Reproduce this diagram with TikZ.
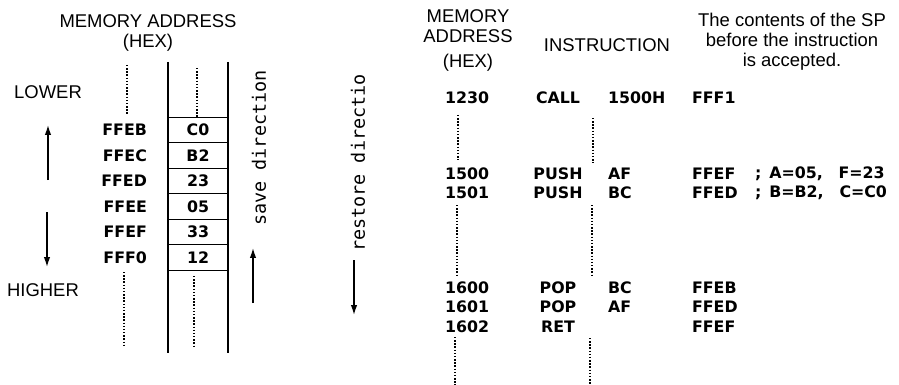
\documentclass[tikz,border=0pt]{standalone}
\usepackage{fontspec}
\setmainfont{Liberation Sans}
\newfontfamily\datafamily{DejaVu Sans}
\newfontfamily\dirfamily{DejaVu Sans Mono}
\usetikzlibrary{arrows.meta}
\tikzset{
  headtext/.style={
    align=center,
    inner sep=1pt,
    font=\fontsize{10.5}{11.5}\selectfont
  },
  datatext/.style={
    inner sep=1pt,
    font=\datafamily\bfseries\fontsize{9}{10}\selectfont
  },
  stackcell/.style={
    datatext,
    draw,
    thick,
    minimum width=1.2cm,
    minimum height=0.51cm,
    inner sep=0pt
  },
  dirtext/.style={rotate=90, inner sep=0pt, font=\dirfamily\fontsize{10.5}{11}\selectfont},
  dirarrow/.style={-{Latex[length=2mm,width=1.3mm]}, thick},
  gapline/.style={densely dotted, thick},
  wallline/.style={thick}
}
\begin{document}
\begin{tikzpicture}[x=0.02cm,y=-0.02cm]
\useasboundingbox (0,0) rectangle (899,385);
% left half: the stack area
\node[headtext] (memhead) at (148,33) {MEMORY ADDRESS\\(HEX)};
\node[headtext] (lower) at (48,92) {LOWER};
\node[headtext] (higher) at (43,290) {HIGHER};
\coordinate (upfrom) at (48,180);
\coordinate (upto) at (48,125);
\coordinate (downfrom) at (47,212);
\coordinate (downto) at (47,267);
\draw[dirarrow] (upfrom) -- (upto);
\draw[dirarrow] (downfrom) -- (downto);
% stack walls
\coordinate (wallLtop) at (168,62);
\coordinate (wallLbot) at (168,353);
\coordinate (wallRtop) at (228,62);
\coordinate (wallRbot) at (228,353);
\draw[wallline] (wallLtop) -- (wallLbot);
\draw[wallline] (wallRtop) -- (wallRbot);
% saved bytes
\foreach \addr/\val [count=\i] in {FFEB/C0,FFEC/B2,FFED/23,FFEE/05,FFEF/33,FFF0/12}{
  \node[stackcell] (cell\i) at (198,{104.5+25.5*\i}) {\val};
  \node[datatext, anchor=east] (addr\i) at (149,{104.5+25.5*\i}) {\addr};
}
\node[dirtext] (savetext) at (259,148) {save direction};
\coordinate (savefrom) at (253,303);
\coordinate (saveto) at (253,248);
\draw[dirarrow] (savefrom) -- (saveto);
\node[dirtext] (restoretext) at (358,163) {restore directio};
\coordinate (restorefrom) at (354,260);
\coordinate (restoreto) at (354,315);
\draw[dirarrow] (restorefrom) -- (restoreto);
% right half: the program listing
\node[headtext] (addrhead) at (468,26) {MEMORY\\ADDRESS};
\node[headtext] (hexhead) at (468,63) {(HEX)};
\node[headtext] (insthead) at (607,45) {INSTRUCTION};
\node[headtext] (sphead) at (792,42) {The contents of the SP\\before the instruction\\is accepted.};
\foreach \y/\adr/\mn/\op/\sp in {98/1230/CALL/1500H/FFF1,174/1500/PUSH/AF/FFEF,193/1501/PUSH/BC/FFED,
                                  288/1600/POP/BC/FFEB,307/1601/POP/AF/FFED,327/1602/RET//FFEF}{
  \node[datatext] (adr\adr) at (467,\y) {\adr};
  \node[datatext] (mn\adr) at (558,\y) {\mn};
  \node[datatext, anchor=west] (op\adr) at (606,\y) {\op};
  \node[datatext, anchor=west] (sp\adr) at (690,\y) {\sp};
}
\node[datatext, anchor=west] (note1500) at (753,174) {;\enspace A=05,\quad F=23};
\node[datatext, anchor=west] (note1501) at (753,193) {;\enspace B=B2,\quad C=C0};
% skipped memory
\foreach \x/\ya/\yb in {127/65/115,197/68/117,124/272/345,194/276/347,
                        458/115/160,593/118/163,457/205/277,592/205/277,455/337/385,590/338/385}{
  \draw[gapline] (\x,\ya) -- (\x,\yb);
}
\end{tikzpicture}
\end{document}
